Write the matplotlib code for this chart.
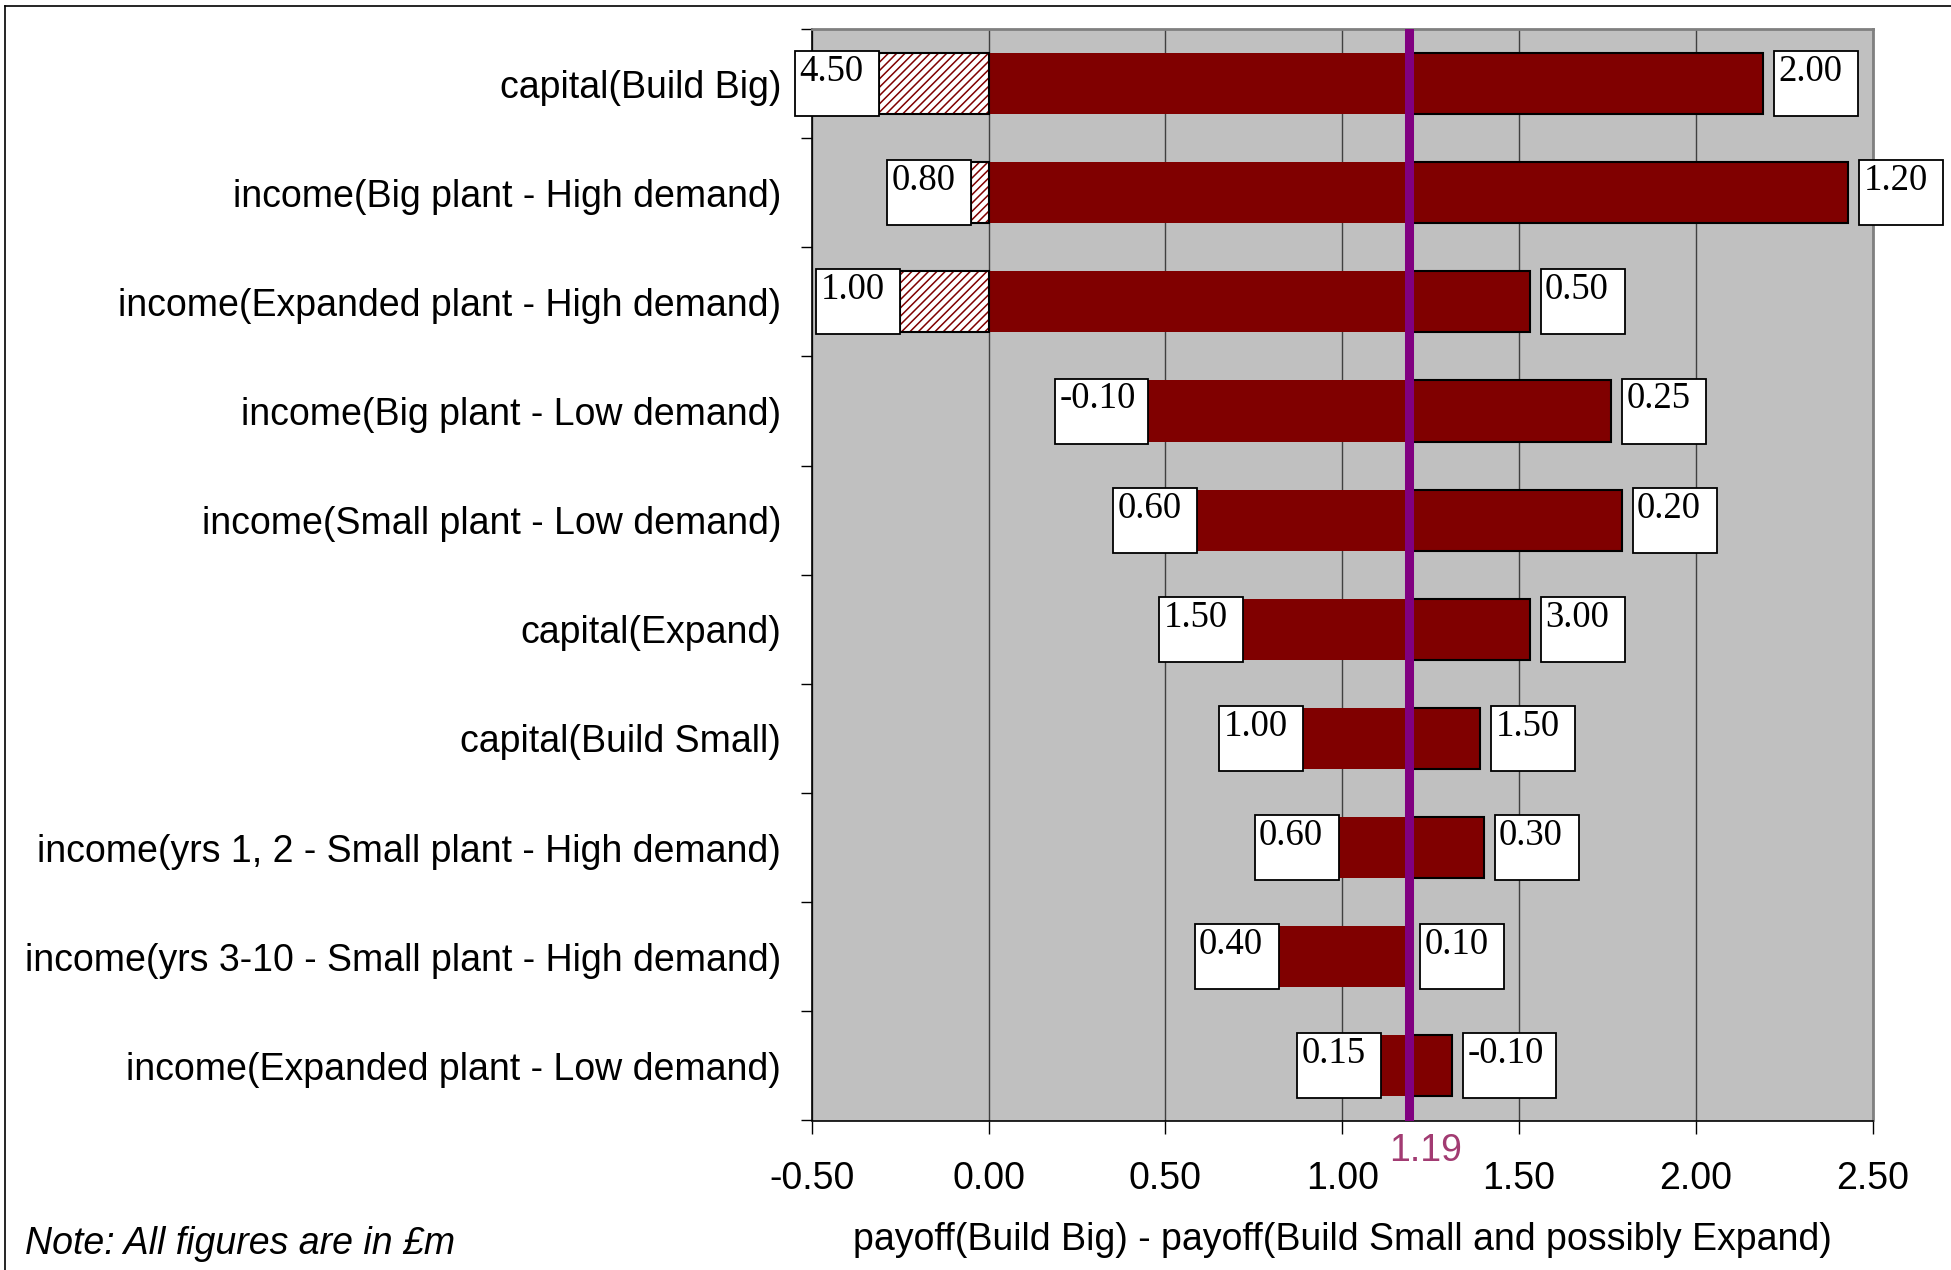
import matplotlib
matplotlib.use('Agg')
import matplotlib.pyplot as plt
import numpy as np
from matplotlib.patches import Rectangle
from matplotlib.lines import Line2D
from matplotlib import font_manager

# data (top row first)
labels = ['capital(Build Big)',
          'income(Big plant - High demand)',
          'income(Expanded plant - High demand)',
          'income(Big plant - Low demand)',
          'income(Small plant - Low demand)',
          'capital(Expand)',
          'capital(Build Small)',
          'income(yrs 1, 2 - Small plant - High demand)',
          'income(yrs 3-10 - Small plant - High demand)',
          'income(Expanded plant - Low demand)']
low_payoff = [-0.31, -0.05, -0.25, 0.45, 0.59, 0.72, 0.89, 0.99, 0.82, 1.11]
high_payoff = [2.19, 2.43, 1.53, 1.76, 1.79, 1.53, 1.39, 1.40, 1.19, 1.31]
low_input = ['4.50', '0.80', '1.00', '-0.10', '0.60', '1.50', '1.00', '0.60', '0.40', '0.15']
high_input = ['2.00', '1.20', '0.50', '0.25', '0.20', '3.00', '1.50', '0.30', '0.10', '-0.10']
base = 1.19
xticks = [-0.5, 0.0, 0.5, 1.0, 1.5, 2.0, 2.5]

names = {f.name for f in font_manager.fontManager.ttflist}
if 'Liberation Sans Narrow' in names:
    sans, fs = 'Liberation Sans Narrow', 32
else:
    # plain Arial-like font, sized to match the narrow text widths
    sans, fs = 'Liberation Sans', 27
serif = 'Liberation Serif'

maroon = '#800000'
W, H = 1951, 1270
fig = plt.figure(figsize=(W / 100, H / 100), dpi=100)
ax = fig.add_axes([811.7 / W, 1 - 1120.5 / H, 1061 / W, 1091.5 / H])
ax.set_facecolor('#C0C0C0')
ax.set_xlim(-0.5, 2.5)
ax.set_ylim(9.5, -0.5)
plt.rcParams['hatch.linewidth'] = 1.1

h = 0.56
for i, (lo, hi) in enumerate(zip(low_payoff, high_payoff)):
    start = max(lo, 0)
    ax.barh(i, base - start, left=start, height=h, color=maroon, lw=0, zorder=3)
    if lo < 0:
        ax.barh(i, -lo, left=lo, height=h, facecolor='white', edgecolor=maroon,
                hatch='////', lw=0, zorder=3)
        ax.barh(i, -lo, left=lo, height=h, fill=False, edgecolor='black', lw=1.5, zorder=4)
    ax.barh(i, hi - base, left=base, height=h, facecolor=maroon, edgecolor='black',
            lw=1.5, zorder=3)

ax.axvline(base, color='#800080', lw=6.5, zorder=5)

# axes styling
ax.set_xticks(xticks)
ax.set_xticklabels([f'{v:.2f}' for v in xticks], fontsize=fs, family=sans)
ax.grid(axis='x', color='#404040', lw=1)
ax.set_axisbelow(True)
ax.tick_params(axis='x', direction='out', length=9, width=1, pad=20)
ax.set_yticks(np.arange(-0.5, 10, 1))
ax.set_yticklabels([])
ax.set_yticks(range(10), minor=True)
ax.set_yticklabels(labels, minor=True, fontsize=fs, family=sans)
ax.tick_params(axis='y', which='major', direction='out', length=8, width=1)
ax.tick_params(axis='y', which='minor', length=0, pad=22)
for s in ['left', 'bottom']:
    ax.spines[s].set_color('black')
    ax.spines[s].set_linewidth(1.2)
for s in ['top', 'right']:
    ax.spines[s].set_color('#808080')
    ax.spines[s].set_linewidth(2)

# value boxes
ppx = ax.transData.transform((1, 0))[0] - ax.transData.transform((0, 0))[0]
ppy = abs(ax.transData.transform((0, 1))[1] - ax.transData.transform((0, 0))[1])
box_h = 65 / ppy


def box_width(txt):
    return (84 + 9 * txt.startswith('-')) / ppx


def value_box(x0, yc, txt):
    w = box_width(txt)
    ax.add_patch(Rectangle((x0, yc - box_h / 2), w, box_h, facecolor='white',
                           edgecolor='black', lw=1.3, zorder=6, clip_on=False))
    ax.annotate(txt, xy=(x0, yc - box_h / 2), xytext=(3.2, -2.5), textcoords='offset points',
                ha='left', va='top', family=serif, fontsize=26.5, zorder=7,
                annotation_clip=False)


for i in range(len(labels)):
    value_box(low_payoff[i] - box_width(low_input[i]), i, low_input[i])
    value_box(high_payoff[i] + 11 / ppx, i, high_input[i])

ax.annotate(f'{base:.2f}', xy=(base, 0), xycoords=('data', 'axes fraction'),
            xytext=(11.5, -29), textcoords='offset points', ha='center', va='baseline',
            color='#A23B72', fontsize=fs, family=sans, annotation_clip=False)

fig.text((811.7 + 1872.7) / 2 / W, 1 - 1250 / H,
         'payoff(Build Big) - payoff(Build Small and possibly Expand)',
         ha='center', va='baseline', fontsize=fs, family=sans)
fig.text(25 / W, 1 - 1254 / H, 'Note: All figures are in £m', ha='left', va='baseline',
         fontsize=fs, family=sans, style='italic')

# outer chart border
fig.add_artist(Line2D([5 / W, 5 / W], [0, 1 - 6 / H], transform=fig.transFigure,
                      color='black', lw=1.2))
fig.add_artist(Line2D([5 / W, 1], [1 - 6 / H, 1 - 6 / H], transform=fig.transFigure,
                      color='black', lw=1.2))

fig.savefig('out.png', dpi=100)
